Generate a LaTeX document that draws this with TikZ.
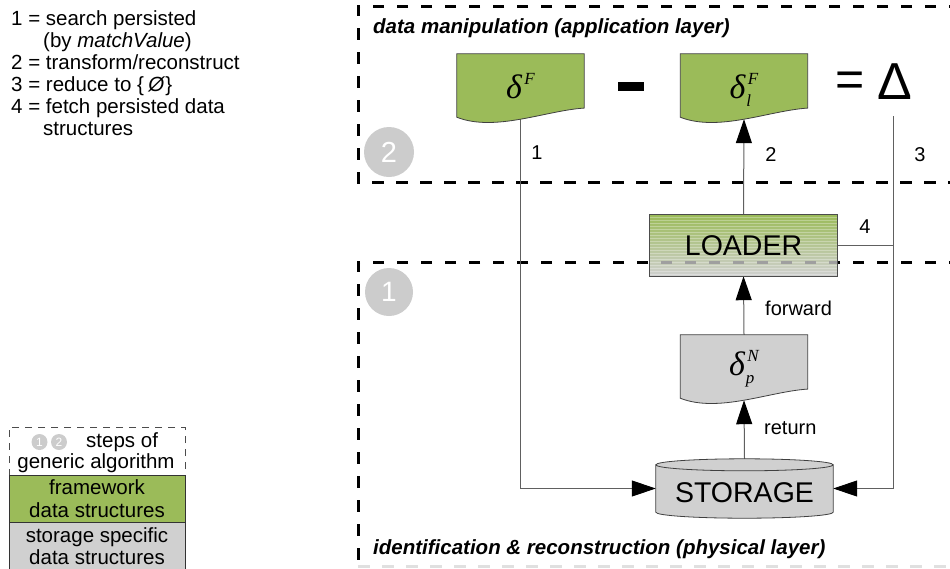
\documentclass[tikz,border=0pt]{standalone}
\usepackage{fontspec}
\setmainfont{Liberation Sans}
\newfontfamily\tnr{Liberation Serif}
\usetikzlibrary{arrows.meta,backgrounds,calc}

\definecolor{fwgreen}{HTML}{9BBB59}
\definecolor{stgray}{HTML}{D0D0D0}
\definecolor{stepgray}{HTML}{CCCCCC}
\definecolor{connline}{HTML}{606060}

% delta symbol with stacked super- and subscript
\newcommand{\dsym}[2]{\mbox{\tnr\itshape\fontsize{34}{34}\selectfont δ\fontsize{17}{17}\selectfont\kern1pt\rlap{\kern1.5pt\raisebox{13.5pt}{#1}}\rlap{\raisebox{-8.5pt}{#2}}\phantom{#1}\kern1.5pt}}

% document outline (wavy bottom) around a named node
\newcommand{\docoutline}[2]{%
  \path[draw=black!75, line width=0.8pt, fill=#2]
    let \p1=(#1.north west), \p2=(#1.south east) in
    (\x1,\y1) -- (\x2,\y1) -- (\x2,{\y1+0.83*(\y2-\y1)})
    .. controls ({\x1+0.7*(\x2-\x1)},{\y1+0.867*(\y2-\y1)}) and ({\x1+0.3*(\x2-\x1)},{\y1+1.2*(\y2-\y1)}) .. (\x1,{\y1+0.97*(\y2-\y1)}) -- cycle;}

\tikzset{
  txt/.style={font=\fontsize{20}{22}\selectfont, inner sep=0pt},
  doc/.style={minimum width=127pt, minimum height=65pt, inner sep=0pt, text height=28pt, text depth=5pt},
  regionline/.style={line width=3pt, dash pattern=on 11.5pt off 12.5pt},
  conn/.style={draw=connline, line width=1pt},
  arrowto/.style={-{Triangle[length=24pt,width=16pt,color=black]}},
  stepdot/.style={circle, fill=stepgray, text=white, inner sep=0pt},
  legcell/.style={draw=black!80, line width=0.8pt, minimum width=176pt, minimum height=47pt, align=center, inner sep=0pt, font=\fontsize{20.5}{22.5}\selectfont},
  layertitle/.style={inner sep=0pt, anchor=west, font=\fontsize{20.5}{22}\selectfont\bfseries\itshape},
}

\begin{document}
\begin{tikzpicture}[x=1pt,y=-1pt]
\useasboundingbox (0,0) rectangle (950,568);

% key to the numbered connectors
\node[txt, anchor=north west, align=left, font=\fontsize{20.5}{22}\selectfont] (key) at (11,10)
  {1 = search persisted\\
   \hspace*{32pt}(by \textit{matchValue})\\
   2 = transform/reconstruct\\
   3 = reduce to \{\,\textit{\kern1pt Ø}\}\\
   4 = fetch persisted data\\
   \hspace*{32pt}structures};

% legend
\node[draw=black!70, line width=0.8pt, dash pattern=on 7pt off 6pt, minimum width=176pt, minimum height=48pt, inner sep=0pt] (lgd) at (97,451) {};
\node[stepdot, minimum size=16pt, font=\fontsize{12}{12}\selectfont] (s1) at (39.5,442) {1};
\node[stepdot, minimum size=16pt, font=\fontsize{12}{12}\selectfont] (s2) at (59,442) {2};
\node[txt, anchor=west, font=\fontsize{20.5}{22}\selectfont] (lgs) at (86,442) {steps of};
\node[txt, font=\fontsize{20.5}{22}\selectfont] (lgg) at (96,463) {generic algorithm};
\node[legcell, fill=fwgreen] (lgf) at (97,498.5) {framework\\data structures};
\node[legcell, fill=stgray] (lgst) at (97,546) {storage specific\\data structures};

% layer titles and step markers
\node[layertitle] (r2) at (373,28) {data manipulation (application layer)};
\node[layertitle] (r1) at (373,549) {identification \& reconstruction (physical layer)};
\node[stepdot, minimum size=50pt, font=\fontsize{29}{29}\selectfont] (ph2) at (389,152) {2};
\node[stepdot, minimum size=48pt, font=\fontsize{28}{28}\selectfont] (ph1) at (389,292) {1};

% data structures
\node[doc] (dF) at (520.5,86.5) {\dsym{F}{}};
\node[inner sep=0pt] (minus) at (631,86.5) {\rule{26pt}{8.5pt}};
\node[doc] (dlF) at (744,86.5) {\dsym{F}{l}};
\node[inner sep=0pt, font=\fontsize{50}{50}\selectfont] (eqs) at (850,84) {=};
\node[inner sep=0pt, font=\fontsize{52}{52}\selectfont] (delta) at (894.5,82) {Δ};
\coordinate (c3) at (893,116);
\node[minimum width=187pt, minimum height=61pt, inner sep=0pt, font=\fontsize{28.5}{30}\selectfont] (loader) at (743.5,245.5) {LOADER};
\node[doc, text height=24pt, text depth=9pt] (dpN) at (744,367.5) {\dsym{N}{p}};
\node[minimum width=177pt, minimum height=59pt, inner sep=0pt, text height=27pt, text depth=0pt, font=\fontsize{28.5}{30}\selectfont] (stor) at (744.5,488.5) {STORAGE};

% connector labels
\node[txt] (n1) at (537,153) {1};
\node[txt] (n2) at (771,155) {2};
\node[txt] (n3) at (920,155) {3};
\node[txt] (n4) at (865,227) {4};
\node[txt, anchor=west] (fw) at (765,308) {forward};
\node[txt, anchor=west] (rt) at (764,428) {return};

\begin{pgfonlayer}{background}
  % layer boundaries
  \draw[regionline] (960,6) -- (358,6) -- (358,182) -- (960,182);
  \draw[regionline] (960,262) -- (358,262) -- (358,566);
  \draw[regionline, draw=black!12] (358,566) -- (960,566);

  % connectors
  \draw[conn, arrowto] (dF.south) |- (stor.west);
  \draw[conn, arrowto] (loader.north) -- (dlF.south);
  \draw[conn, arrowto] (c3) |- (stor.east);
  \draw[conn] (loader.east) -- (loader.east -| c3);
  \draw[conn, arrowto] (dpN.north) -- (loader.south);
  \draw[conn, arrowto] (stor.north) -- (dpN.south);

  % document shapes
  \docoutline{dF}{fwgreen}
  \docoutline{dlF}{fwgreen}
  \docoutline{dpN}{stgray}

  % loader box with graded, striped fill
  \shade[top color=fwgreen, middle color=fwgreen!55!white, bottom color=stgray]
    (loader.north west) rectangle (loader.south east);
  \begin{scope}
    \clip (loader.north west) rectangle (loader.south east);
    \foreach \k in {1,...,20}
      \draw[white, opacity=0.3, line width=1pt] ([yshift=-\k*3pt]loader.north west) -- ([yshift=-\k*3pt]loader.north east);
    \draw[regionline, draw=gray!75] (960,262) -- (358,262);
  \end{scope}
  \draw[black!70, line width=0.8pt] (loader.north west) rectangle (loader.south east);

  % storage cylinder
  \path[draw=black!75, line width=0.8pt, fill=stgray]
    let \p1=(stor.north west), \p2=(stor.south east), \n1={(\x2-\x1)/2} in
    (\x1,{\y1-6pt}) -- (\x1,{\y2+6pt})
      arc[start angle=180, end angle=360, x radius={\n1*1pt}, y radius=6pt]
      -- (\x2,{\y1-6pt})
      arc[start angle=0, end angle=180, x radius={\n1*1pt}, y radius=6pt] -- cycle
    ({\x1+\n1*1pt},{\y1-6pt}) ellipse[x radius={\n1*1pt}, y radius=6pt];
\end{pgfonlayer}
\end{tikzpicture}
\end{document}
